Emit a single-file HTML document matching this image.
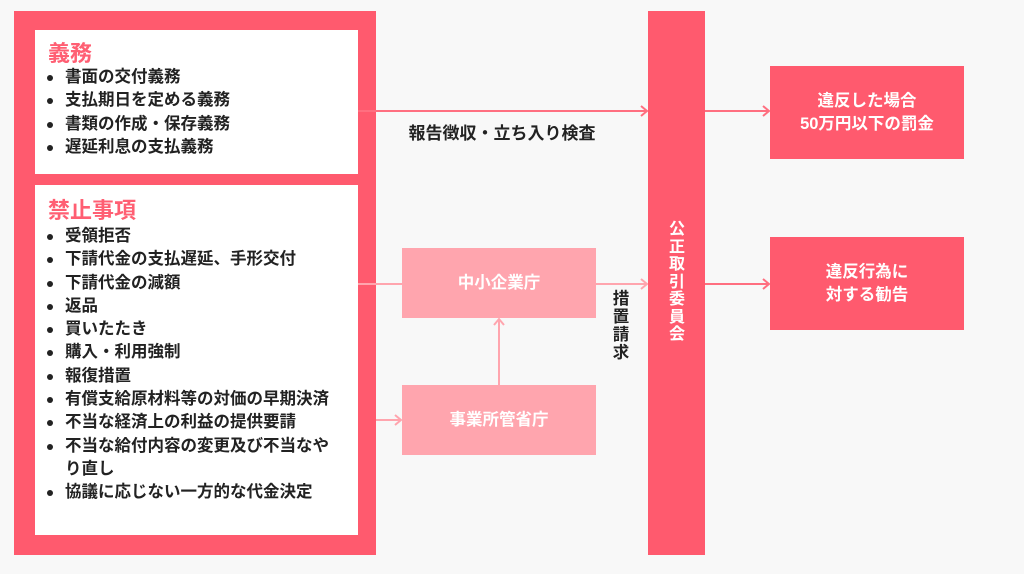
<!DOCTYPE html>
<html><head><meta charset="utf-8"><style>
*{margin:0;padding:0;box-sizing:border-box}
body{width:1024px;height:574px;background:#f8f8f8;position:relative;overflow:hidden;font-family:"Liberation Sans","Noto Sans CJK JP",sans-serif}
.a{position:absolute}
.w{background:#fff}
.h{color:#ff5f73;font-size:22px;font-weight:bold;position:absolute;left:13px}
ul{position:absolute;left:12px;list-style:none;font-size:16.5px;font-weight:bold;color:#222;line-height:23.3px;white-space:nowrap}
li{padding-left:18px;position:relative}
li:before{content:"";position:absolute;left:0px;top:9px;width:6px;height:6px;border-radius:50%;background:#222}
.box{display:flex;align-items:center;justify-content:center;text-align:center;color:#fff;font-weight:bold;font-size:16.5px;line-height:23px}
</style></head><body>
<div class="a" style="left:14px;top:11px;width:362px;height:544px;background:#ff5a6e"></div>
<div class="a w" style="left:35px;top:30px;width:323px;height:144px">
<div class="h" style="top:6px">義務</div>
<ul style="top:36px"><li>書面の交付義務</li><li>支払期日を定める義務</li><li>書類の作成・保存義務</li><li>遅延利息の支払義務</li></ul>
</div>
<div class="a w" style="left:35px;top:185px;width:323px;height:350px">
<div class="h" style="top:8px">禁止事項</div>
<ul style="top:40px"><li>受領拒否</li><li>下請代金の支払遅延、手形交付</li><li>下請代金の減額</li><li>返品</li><li>買いたたき</li><li>購入・利用強制</li><li>報復措置</li><li>有償支給原材料等の対価の早期決済</li><li>不当な経済上の利益の提供要請</li><li>不当な給付内容の変更及び不当なや<br>り直し</li><li>協議に応じない一方的な代金決定</li></ul>
</div>
<svg class="a" style="left:0;top:0" width="1024" height="574">
<g stroke="#ff6f80" stroke-width="2" fill="none">
<line x1="358" y1="111" x2="647" y2="111"/><polyline points="641,106 647,111 641,116"/>
<line x1="705" y1="111" x2="769" y2="111"/><polyline points="763,106 769,111 763,116"/>
<line x1="705" y1="284" x2="769" y2="284"/><polyline points="763,279 769,284 763,289"/>
</g>
<g stroke="#ffa5ae" stroke-width="2" fill="none">
<line x1="358" y1="284" x2="402" y2="284"/>
<line x1="596" y1="284" x2="647" y2="284"/><polyline points="641,279 647,284 641,289"/>
<line x1="376" y1="420" x2="401" y2="420"/><polyline points="395,415 401,420 395,425"/>
<line x1="499" y1="385" x2="499" y2="319"/><polyline points="494,325 499,319 504,325"/>
</g>
</svg>
<div class="a" style="left:392px;top:119px;width:220px;text-align:center;font-size:17px;font-weight:bold;color:#222;white-space:nowrap">報告徴収・立ち入り検査</div>
<div class="a box" style="left:402px;top:248px;width:194px;height:70px;background:#ffa5ae">中小企業庁</div>
<div class="a box" style="left:402px;top:385px;width:194px;height:70px;background:#ffa5ae">事業所管省庁</div>
<div class="a" style="left:611px;top:290px;width:20px;font-size:16.5px;font-weight:bold;color:#222;line-height:18px;text-align:center">措<br>置<br>請<br>求</div>
<div class="a" style="left:648px;top:11px;width:57px;height:544px;background:#ff5a6e"></div>
<div class="a" style="left:667px;top:221px;width:20px;font-size:16px;font-weight:bold;color:#fff;line-height:17.5px;text-align:center">公<br>正<br>取<br>引<br>委<br>員<br>会</div>
<div class="a box" style="left:770px;top:66px;width:194px;height:93px;background:#ff5a6e">違反した場合<br>50万円以下の罰金</div>
<div class="a box" style="left:770px;top:237px;width:194px;height:93px;background:#ff5a6e">違反行為に<br>対する勧告</div>
</body></html>
